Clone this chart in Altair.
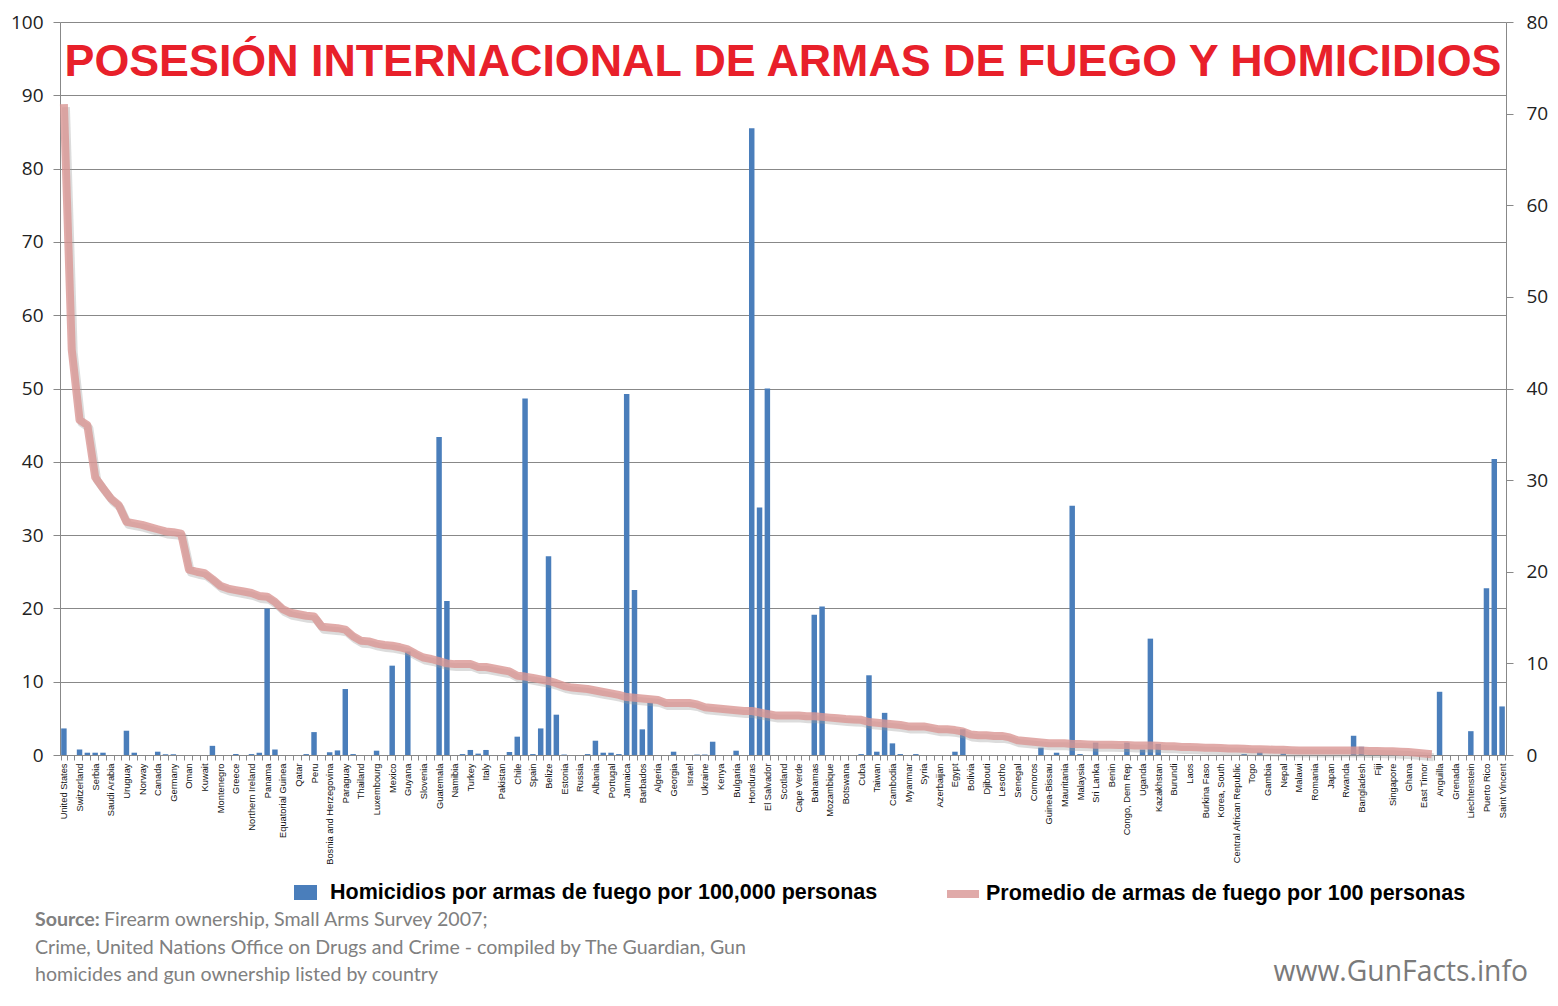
import json
import altair as alt
import pandas as pd

# visible tick labels (every other country is labelled on the x axis)
labels = [
    "United States", "Switzerland", "Serbia", "Saudi Arabia", "Uruguay", "Norway",
    "Canada", "Germany", "Oman", "Kuwait", "Montenegro", "Greece", "Northern Ireland",
    "Panama", "Equatorial Guinea", "Qatar", "Peru", "Bosnia and Herzegovina", "Paraguay",
    "Thailand", "Luxembourg", "Mexico", "Guyana", "Slovenia", "Guatemala", "Namibia",
    "Turkey", "Italy", "Pakistan", "Chile", "Spain", "Belize", "Estonia", "Russia",
    "Albania", "Portugal", "Jamaica", "Barbados", "Algeria", "Georgia", "Israel",
    "Ukraine", "Kenya", "Bulgaria", "Honduras", "El Salvador", "Scotland", "Cape Verde",
    "Bahamas", "Mozambique", "Botswana", "Cuba", "Taiwan", "Cambodia", "Myanmar",
    "Syria", "Azerbaijan", "Egypt", "Bolivia", "Djibouti", "Lesotho", "Senegal",
    "Comoros", "Guinea-Bissau", "Mauritania", "Malaysia", "Sri Lanka", "Benin",
    "Congo, Dem Rep", "Uganda", "Kazakhstan", "Burundi", "Laos", "Burkina Faso",
    "Korea, South", "Central African Republic", "Togo", "Gambia", "Nepal", "Malawi",
    "Romania", "Japan", "Rwanda", "Bangladesh", "Fiji", "Singapore", "Ghana",
    "East Timor", "Anguilla", "Grenada", "Liechtenstein", "Puerto Rico", "Saint Vincent",
]

# firearm homicides per 100,000 (right axis), one per country in chart order
homicides = [
    2.9, 0, 0.6, 0.25, 0.25, 0.25, 0, 0, 2.65, 0.25,
    0, 0, 0.36, 0.08, 0.08, 0, 0, 0, 0, 1.0,
    0, 0, 0.1, 0, 0.1, 0.25, 16.0, 0.6, 0, 0,
    0, 0.1, 2.5, 0, 0.3, 0.5, 7.2, 0.1, 0, 0,
    0.47, 0, 9.75, 0, 11.3, 0, 0, 0, 34.7, 16.8,
    0, 0.1, 0.55, 0.15, 0.55, 0, 0, 0.33, 2.0, 38.9,
    0.1, 2.9, 21.7, 4.4, 0.05, 0, 0, 0.1, 1.56, 0.25,
    0.25, 0.1, 39.4, 18.0, 2.8, 5.7, 0, 0, 0.36, 0,
    0, 0.05, 0.05, 1.45, 0, 0, 0.47, 0, 68.4, 27.0,
    40.0, 0, 0, 0, 0, 0, 15.3, 16.2, 0, 0,
    0, 0, 0.1, 8.7, 0.36, 4.6, 1.27, 0.1, 0, 0.1,
    0, 0, 0, 0, 0.36, 2.8, 0, 0, 0, 0,
    0, 0, 0, 0, 0, 0.8, 0, 0.25, 0, 27.2,
    0.1, 0, 1.35, 0, 0, 0, 1.35, 0, 0.6, 12.7,
    1.2, 0, 0, 0, 0, 0, 0, 0, 0, 0,
    0, 0.1, 0, 0.3, 0, 0, 0.15, 0, 0, 0,
    0, 0, 0, 0, 0, 2.1, 0.9, 0, 0, 0,
    0, 0, 0, 0, 0, 0, 6.9, 0, 0, 0,
    2.6, 0, 18.2, 32.3, 5.3,
]

# average firearms per 100 people (left axis)
guns = [
    88.8, 55.3, 45.7, 45.0, 37.9, 36.4, 35.0, 34.1, 31.8, 31.6,
    31.4, 31.1, 30.8, 30.5, 30.4, 30.2, 25.3, 25.0, 24.8, 24.0,
    23.1, 22.7, 22.5, 22.3, 22.1, 21.7, 21.6, 20.9, 19.9, 19.4,
    19.2, 19.0, 18.9, 17.5, 17.4, 17.3, 17.1, 16.2, 15.6, 15.5,
    15.2, 15.0, 14.9, 14.7, 14.4, 13.8, 13.3, 13.1, 12.8, 12.5,
    12.4, 12.4, 12.4, 12.0, 12.0, 11.8, 11.6, 11.4, 10.8, 10.7,
    10.5, 10.3, 10.1, 9.8, 9.4, 9.2, 9.1, 9.0, 8.8, 8.6,
    8.4, 8.2, 7.9, 7.8, 7.7, 7.6, 7.5, 7.1, 7.1, 7.1,
    7.1, 6.9, 6.5, 6.4, 6.3, 6.2, 6.1, 6.0, 6.0, 5.8,
    5.6, 5.4, 5.4, 5.4, 5.4, 5.3, 5.3, 5.2, 5.1, 5.0,
    4.9, 4.85, 4.8, 4.5, 4.4, 4.3, 4.2, 4.1, 3.9, 3.9,
    3.9, 3.7, 3.5, 3.5, 3.4, 3.2, 2.8, 2.7, 2.7, 2.6,
    2.6, 2.4, 2.0, 1.9, 1.8, 1.7, 1.6, 1.6, 1.6, 1.5,
    1.5, 1.45, 1.4, 1.4, 1.4, 1.35, 1.35, 1.3, 1.3, 1.3,
    1.25, 1.2, 1.2, 1.1, 1.1, 1.05, 1.0, 1.0, 0.95, 0.9,
    0.9, 0.85, 0.8, 0.8, 0.75, 0.7, 0.7, 0.65, 0.6, 0.6,
    0.6, 0.6, 0.6, 0.6, 0.6, 0.6, 0.6, 0.55, 0.55, 0.5,
    0.5, 0.45, 0.4, 0.3, 0.2, 0.1,
    None, None, None, None, None, None, None, None, None,
]

bar_label = "Homicidios por armas de fuego por 100,000 personas"
line_label = "Promedio de armas de fuego por 100 personas"
title_text = "POSESIÓN INTERNACIONAL DE ARMAS DE FUEGO Y HOMICIDIOS"

df = pd.DataFrame({"idx": list(range(len(homicides))), "homicides": homicides, "guns": guns})
df["bar_series"] = bar_label
df["line_series"] = line_label

label_expr = "datum.value % 2 == 0 ? " + json.dumps(labels) + "[datum.value / 2] : ''"

x_enc = alt.X('idx:O', title=None,
              scale=alt.Scale(paddingInner=0.3, paddingOuter=0.15),
              axis=alt.Axis(labelExpr=label_expr, labelAngle=-90, labelAlign='right',
                            labelBaseline='middle', labelFontSize=9.3,
                            labelFont='Liberation Sans',
                            labelColor='#111', labelOverlap=False, labelPadding=3,
                            tickBand='extent', tickSize=5, tickColor='#888',
                            domainColor='#888'))

axis_style = dict(title=None, tickSize=7, labelFontSize=19,
                  labelFont='Open Sans', labelColor='#222',
                  domainColor='#888', tickColor='#888')

bars = alt.Chart(df).mark_bar().encode(
    x=x_enc,
    y=alt.Y('homicides:Q', scale=alt.Scale(domain=[0, 80], nice=False),
            axis=alt.Axis(orient='right', values=list(range(0, 81, 10)), grid=False,
                          labelPadding=13, **axis_style)),
    color=alt.Color('bar_series:N',
                    scale=alt.Scale(domain=[bar_label], range=['#4a7ebb']),
                    legend=alt.Legend(orient='none', legendX=233, legendY=858, title=None,
                                      symbolType='M-1,-0.65H1V0.65H-1Z', symbolSize=529,
                                      labelFontSize=21.5, labelFont='Liberation Sans',
                                      labelFontWeight='bold', labelColor='black',
                                      labelOffset=12, labelLimit=800, padding=0)),
)

shadow = alt.Chart(df).mark_line(color='#9a9a9a', strokeWidth=8, opacity=0.35,
                                  strokeJoin='round', xOffset=2, yOffset=3).encode(
    x=x_enc,
    y=alt.Y('guns:Q', scale=alt.Scale(domain=[0, 100], nice=False), axis=None),
)

line = alt.Chart(df).mark_line(strokeWidth=8, opacity=0.8, strokeJoin='round').encode(
    x=x_enc,
    y=alt.Y('guns:Q', scale=alt.Scale(domain=[0, 100], nice=False),
            axis=alt.Axis(orient='left', values=list(range(0, 101, 10)), grid=True,
                          gridColor='#888', labelPadding=10, **axis_style)),
    stroke=alt.Stroke('line_series:N',
                      scale=alt.Scale(domain=[line_label], range=['#d99694']),
                      legend=alt.Legend(orient='none', legendX=883, legendY=852, title=None,
                                        symbolType='stroke', symbolStrokeWidth=8,
                                        symbolSize=1024, labelFontSize=21.5,
                                        labelFont='Liberation Sans', labelFontWeight='bold',
                                        labelColor='black', labelOffset=3,
                                        labelLimit=800, padding=0)),
)


def note(text, x, y, **style):
    return alt.Chart(pd.DataFrame({"t": [text]})).mark_text(**style).encode(
        text='t:N', x=alt.value(x), y=alt.value(y))


src_style = dict(font='Lato', fontSize=19.6, color='#808080', align='left', baseline='middle')

title = note(title_text, 723, 54, font='Liberation Sans', fontSize=44.8, fontWeight='bold',
             color='#e8202a', align='center', baseline='alphabetic')
src1a = note("Source:", -25, 898, fontWeight='bold', **src_style)
src1b = note("Firearm ownership, Small Arms Survey 2007;", 44, 898, **src_style)
src2 = note("Crime, United Nations Office on Drugs and Crime - compiled by The Guardian, Gun",
            -25, 926, **src_style)
src3 = note("homicides and gun ownership listed by country", -25, 953, **src_style)
site = note("www.GunFacts.info", 1468, 951, font='Open Sans', fontSize=28.3, color='#7a7a7a',
            align='right', baseline='middle')

chart = alt.layer(bars, shadow, line, title, src1a, src1b, src2, src3, site).resolve_scale(
    y='independent', color='independent', stroke='independent'
).properties(
    width=1446, height=733,
    autosize=alt.AutoSizeParams(type='none'),
    padding={"left": 52, "top": 14, "right": 44, "bottom": 234},
    background='white',
).configure_view(stroke=None)

chart.save("out.html", embed_options={"renderer": "svg", "actions": False})
